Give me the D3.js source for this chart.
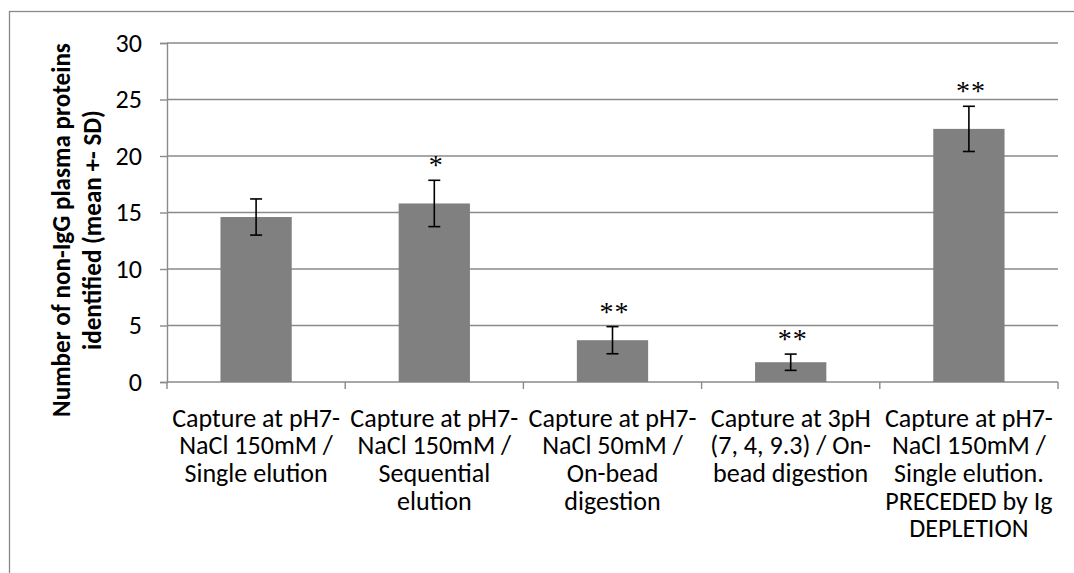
<!DOCTYPE html>
<html>
<head>
<meta charset="utf-8">
<script src="https://cdn.jsdelivr.net/npm/d3@7"></script>
<style>
  body { margin: 0; background: #fff; }
  svg { display: block; }
  .lbl { font-family: Carlito, Lato, "Open Sans", sans-serif; fill: #000; }
</style>
</head>
<body>
<svg id="chart" width="1074" height="573"></svg>
<script>
// ---- data ----
var categories = [
  ["Capture at pH7-", "NaCl 150mM /", "Single elution"],
  ["Capture at pH7-", "NaCl 150mM /", "Sequential", "elution"],
  ["Capture at pH7-", "NaCl 50mM /", "On-bead", "digestion"],
  ["Capture at 3pH", "(7, 4, 9.3) / On-", "bead digestion"],
  ["Capture at pH7-", "NaCl 150mM /", "Single elution.", "PRECEDED by Ig", "DEPLETION"]
];
var means = [14.6, 15.8, 3.7, 1.75, 22.4];
var sds = [1.6, 2.05, 1.2, 0.72, 2.0];
var stars = ["", "*", "**", "**", "**"];
var yTicks = [0, 5, 10, 15, 20, 25, 30];
var yTitle = ["Number of non-IgG plasma proteins", "identified (mean +- SD)"];

// ---- layout ----
var svg = d3.select("#chart");
var plotL = 167, plotR = 1058, plotT = 43, plotB = 382;
var gridColor = "#8a8a8a";

// outer chart border (right/bottom fall outside the picture)
svg.append("rect")
  .attr("x", 9.5).attr("y", 11.5)
  .attr("width", 1100).attr("height", 600)
  .attr("fill", "none").attr("stroke", "#888").attr("stroke-width", 1.3);

var x = d3.scaleBand()
  .domain(d3.range(means.length))
  .range([plotL, plotR])
  .paddingInner(0.6)
  .paddingOuter(0.3);

var y = d3.scaleLinear().domain([0, 30]).range([plotB, plotT]);

// size text to the reference widths
function fitSize(str, target, weight) {
  var t = svg.append("text").attr("class", "lbl")
    .style("font-size", "100px").style("font-weight", weight || "normal").text(str);
  var w = t.node().getComputedTextLength();
  t.remove();
  return 100 * target / w;
}
var fs = fitSize("Capture at pH7-", 168);
var tfs = fitSize(yTitle[0], 374, "bold");

// gridlines
svg.append("g")
  .selectAll("line")
  .data(yTicks.filter(function(d) { return d > 0; }))
  .join("line")
  .attr("x1", plotL).attr("x2", plotR)
  .attr("y1", function(d) { return y(d); }).attr("y2", function(d) { return y(d); })
  .attr("stroke", gridColor).attr("stroke-width", 1.4);

// y axis
var yAxis = svg.append("g")
  .attr("transform", "translate(" + plotL + ",0)")
  .call(d3.axisLeft(y).tickValues(yTicks).tickSize(7).tickPadding(18));
yAxis.select(".domain").attr("stroke", gridColor).attr("stroke-width", 1.4);
yAxis.selectAll(".tick line").attr("stroke", gridColor).attr("stroke-width", 1.4);
yAxis.selectAll(".tick text")
  .attr("class", "lbl")
  .style("font-size", fs + "px");

// x axis line and boundary ticks
svg.append("line")
  .attr("x1", plotL).attr("x2", plotR)
  .attr("y1", plotB).attr("y2", plotB)
  .attr("stroke", gridColor).attr("stroke-width", 1.4);
svg.append("g")
  .selectAll("line")
  .data(d3.range(means.length + 1))
  .join("line")
  .attr("x1", function(i) { return plotL + i * x.step(); })
  .attr("x2", function(i) { return plotL + i * x.step(); })
  .attr("y1", plotB).attr("y2", plotB + 7)
  .attr("stroke", gridColor).attr("stroke-width", 1.4);

// bars
svg.append("g")
  .selectAll("rect")
  .data(means)
  .join("rect")
  .attr("x", function(d, i) { return x(i); })
  .attr("width", x.bandwidth())
  .attr("y", function(d) { return y(d); })
  .attr("height", function(d) { return y(0) - y(d); })
  .attr("fill", "#808080");

// error bars
var eb = svg.append("g").attr("stroke", "#000").attr("stroke-width", 1.6);
means.forEach(function(m, i) {
  var cx = x(i) + x.bandwidth() / 2;
  var hi = y(m + sds[i]), lo = y(m - sds[i]);
  eb.append("line").attr("x1", cx).attr("x2", cx).attr("y1", hi).attr("y2", lo);
  eb.append("line").attr("x1", cx - 6).attr("x2", cx + 6).attr("y1", hi).attr("y2", hi);
  eb.append("line").attr("x1", cx - 6).attr("x2", cx + 6).attr("y1", lo).attr("y2", lo);
});

// significance stars
svg.append("g")
  .selectAll("text")
  .data(stars)
  .join("text")
  .attr("x", function(d, i) { return x(i) + x.bandwidth() / 2 + 2; })
  .attr("y", function(d, i) { return y(means[i] + sds[i]) - 6; })
  .attr("text-anchor", "middle")
  .style("font-family", "'Liberation Serif', 'DejaVu Serif', serif")
  .style("font-size", "28px")
  .style("letter-spacing", "1px")
  .text(function(d) { return d; });

// category labels
var lineH = 27.7;
svg.append("g")
  .selectAll("text")
  .data(categories)
  .join("text")
  .attr("class", "lbl")
  .attr("text-anchor", "middle")
  .style("font-size", fs + "px")
  .attr("transform", function(d, i) {
    return "translate(" + (x(i) + x.bandwidth() / 2) + "," + 426.5 + ")";
  })
  .selectAll("tspan")
  .data(function(d) { return d; })
  .join("tspan")
  .attr("x", 0)
  .attr("y", function(d, j) { return j * lineH; })
  .text(function(d) { return d; });

// y title
svg.append("text")
  .attr("class", "lbl")
  .attr("text-anchor", "middle")
  .style("font-size", tfs + "px")
  .style("font-weight", "bold")
  .attr("transform", "translate(70," + 230 + ") rotate(-90)")
  .selectAll("tspan")
  .data(yTitle)
  .join("tspan")
  .attr("x", 0)
  .attr("y", function(d, j) { return j * 31; })
  .text(function(d) { return d; });
</script>
</body>
</html>
